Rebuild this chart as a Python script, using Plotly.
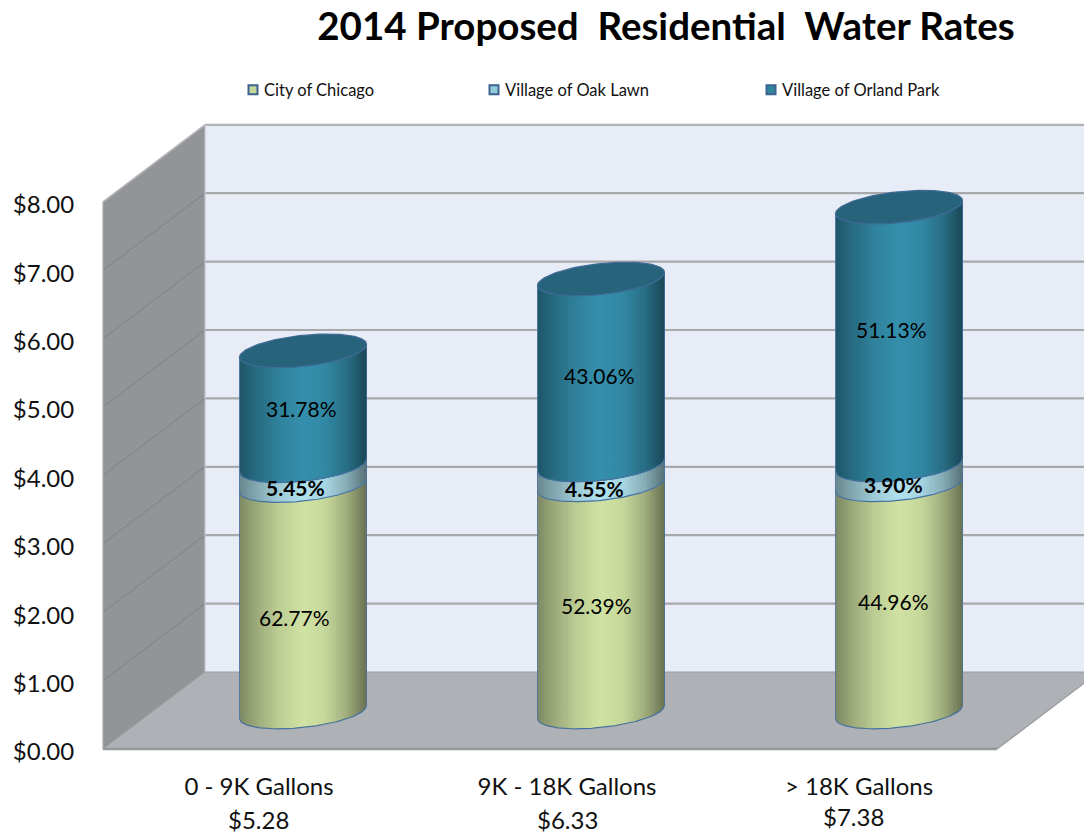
import numpy as np
import plotly.graph_objects as go

# ---- data ----
categories = ["0 - 9K Gallons", "9K - 18K Gallons", "> 18K Gallons"]
totals = ["$5.28", "$6.33", "$7.38"]
series_names = ["City of Chicago", "Village of Oak Lawn", "Village of Orland Park"]
chicago = [3.31, 3.32, 3.32]
oak_lawn = [0.29, 0.29, 0.29]
orland_park = [1.68, 2.72, 3.77]
chicago_pct = ["62.77%", "52.39%", "44.96%"]
oak_lawn_pct = ["5.45%", "4.55%", "3.90%"]
orland_park_pct = ["31.78%", "43.06%", "51.13%"]
y_ticks = [0, 1, 2, 3, 4, 5, 6, 7, 8]
y_tick_labels = ["$0.00", "$1.00", "$2.00", "$3.00", "$4.00", "$5.00", "$6.00", "$7.00", "$8.00"]

# ---- page geometry (pixels) ----
W, H = 1084, 834
PX_PER_CAT, PX_PER_DOLLAR = 298.0, 68.4
FRONT_LEFT, FRONT_BOTTOM = 103.0, 749.0
DEPTH_PX_X, DEPTH_PX_Y = 102.0, 77.0
PLOT_L, PLOT_T, PLOT_B = 100, 119, 752
x_min = -0.5 - (FRONT_LEFT - PLOT_L) / PX_PER_CAT
x_max = -0.5 + (W - FRONT_LEFT) / PX_PER_CAT
y_min = -(PLOT_B - FRONT_BOTTOM) / PX_PER_DOLLAR
y_max = (FRONT_BOTTOM - PLOT_T) / PX_PER_DOLLAR
dx = DEPTH_PX_X / PX_PER_CAT
dy = DEPTH_PX_Y / PX_PER_DOLLAR
px_x = 1 / PX_PER_CAT
px_y = 1 / PX_PER_DOLLAR
x_front_l, x_front_r = -0.5, 2.5
TOP = 8

fig = go.Figure()


def poly(xs, ys, fill, line=None, lw=0):
    fig.add_trace(go.Scatter(x=xs, y=ys, mode="lines", fill="toself", fillcolor=fill,
                             line=dict(color=line or fill, width=lw), hoverinfo="skip",
                             showlegend=False))


def path(xs, ys, color, lw):
    fig.add_trace(go.Scatter(x=xs, y=ys, mode="lines", line=dict(color=color, width=lw),
                             hoverinfo="skip", showlegend=False))


# walls and floor
poly([x_front_l + dx, x_front_r + dx, x_front_r + dx, x_front_l + dx],
     [dy, dy, TOP + dy, TOP + dy], "#e8ecf6")
poly([x_front_l, x_front_l + dx, x_front_l + dx, x_front_l],
     [0, dy, TOP + dy, TOP], "#929497")
poly([x_front_l, x_front_r, x_front_r + dx, x_front_l + dx],
     [0, 0, dy, dy], "#aeb1b6")

# gridlines
for v in y_ticks[1:]:
    path([x_front_l + dx, x_front_r + dx], [v + dy, v + dy], "#a8a9ab", 2.2)
    if v < TOP:
        path([x_front_l, x_front_l + dx], [v, v + dy], "#7f8184", 1)
path([x_front_l, x_front_l + dx, x_front_r + dx], [TOP, TOP + dy, TOP + dy], "#b4b6ba", 1.6)
path([x_front_l + dx, x_front_l + dx], [dy, TOP + dy], "#c2c4c8", 1.2)
path([x_front_l, x_front_l], [0, TOP], "#a9abae", 1.2)
path([x_front_l, x_front_r], [0, 0], "#97999c", 2.4)
path([x_front_l, x_front_l + dx, x_front_r + dx], [0, dy, dy], "#9a9c9f", 1)
path([x_front_r, x_front_r + dx], [0, dy], "#97999c", 1.2)

# cylinders
HALF_W = 63.5 * px_x
ELL_H = 15.5 * px_y
TILT = 6.5 * px_y
SHADE_U = [-1.0, -0.75, -0.4, 0.0, 0.35, 0.7, 1.0]
SHADE_K = [0.60, 0.74, 0.90, 1.0, 0.95, 0.76, 0.50]
N_STRIPS = 42
u_edges = np.linspace(-1, 1, N_STRIPS + 1)
segment_colors = [(0xd1, 0xe3, 0xa3), (0xb0, 0xe1, 0xee), (0x35, 0x90, 0xad)]
CAP_COLOR = "#27637a"
EDGE = "rgba(70,110,160,0.8)"


def front_arc(u, level):
    return level - ELL_H * np.sqrt(np.clip(1 - u ** 2, 0, 1)) + TILT * u


for i in range(len(categories)):
    cx = i + dx / 2
    base = dy / 2 - 1.5 * px_y
    stack = [chicago[i], oak_lawn[i], orland_park[i]]
    lows = np.concatenate([[0], np.cumsum(stack)[:-1]]) + base
    highs = np.cumsum(stack) + base
    for low, high, col in zip(lows, highs, segment_colors):
        # each band runs on to the far edge and the next one paints over it, so no seams show
        for j in range(N_STRIPS):
            k = float(np.interp((u_edges[j] + u_edges[j + 1]) / 2, SHADE_U, SHADE_K))
            c = "rgb(%d,%d,%d)" % tuple(int(k * q) for q in col)
            uj = u_edges[j:]
            poly(np.concatenate([cx + uj * HALF_W, cx + uj[::-1] * HALF_W]),
                 np.concatenate([front_arc(uj, low), front_arc(uj[::-1], high)]), c)
    uu = np.linspace(-1, 1, 81)
    for low in lows:
        path(cx + uu * HALF_W, front_arc(uu, low), "#47729f", 1.2)
    top = highs[-1]
    t = np.linspace(0, 2 * np.pi, 121)
    poly(cx + np.cos(t) * HALF_W, top + ELL_H * np.sin(t) + TILT * np.cos(t), CAP_COLOR, "#3f6a96", 1.3)
    path([cx - HALF_W, cx - HALF_W], [base - TILT, top - TILT], EDGE, 1)
    path([cx + HALF_W, cx + HALF_W], [base + TILT, top + TILT], EDGE, 1)

# legends: one per entry so that each can sit at its own spot
legend_markers = ["#c4d79b", "#92cddc", "#31859c"]
legend_x = [249, 490, 767]
legend_cfg = {}
for n, (name, col, lx) in enumerate(zip(series_names, legend_markers, legend_x)):
    key = "legend" if n == 0 else f"legend{n + 1}"
    fig.add_trace(go.Scatter(x=[None], y=[None], mode="markers", name=name,
                             marker=dict(symbol="square", size=9, color=col,
                                         line=dict(color="#3b6290", width=2)),
                             legend=key, showlegend=True))
    legend_cfg[key] = dict(x=(lx - 10) / W, y=1 - 90 / H, xref="container", yref="container",
                           xanchor="left", yanchor="middle", orientation="h",
                           bgcolor="rgba(0,0,0,0)", itemwidth=30, indentation=-15,
                           font=dict(family="Lato", size=16.5, color="#111"))

# data labels
label_xshift = [[-9, -8, -2], [-5, -7, -2], [-6, -6, -8]]
label_yshift = [[-19, -12, 0], [-7, -14, -3], [-3, -10, 7]]
annotations = []
pcts = [chicago_pct, oak_lawn_pct, orland_park_pct]
for i in range(len(categories)):
    stack = [chicago[i], oak_lawn[i], orland_park[i]]
    cum = np.cumsum(stack)
    base = dy / 2 - 1.5 * px_y
    for s in range(3):
        text = f"<b>{pcts[s][i]}</b>" if s == 1 else pcts[s][i]
        annotations.append(dict(
            x=i + dx / 2, y=base + cum[s] - stack[s] / 2, xref="x", yref="y", text=text,
            showarrow=False, xshift=label_xshift[i][s], yshift=label_yshift[i][s],
            font=dict(family="Lato", size=21, color="#000")))

# totals under the category names
total_xshift = [6, 17, 5]
total_yshift = [-70, -70, -67]
tick_shift_px = [7, 17, 11]
for i, txt in enumerate(totals):
    annotations.append(dict(x=i, y=0, xref="x", yref="y", text=txt, showarrow=False,
                            xshift=total_xshift[i], yshift=total_yshift[i], borderpad=0,
                            font=dict(family="Lato", size=24, color="#111")))

fig.update_layout(
    width=W, height=H, margin=dict(l=PLOT_L, r=0, t=PLOT_T, b=H - PLOT_B, pad=0),
    paper_bgcolor="white", plot_bgcolor="white",
    title=dict(text="<b>2014 Proposed\u00a0 Residential\u00a0 Water Rates</b>", x=666 / W, y=1 - 27 / H,
               xanchor="center", yanchor="middle",
               font=dict(family="Lato", size=38.5, color="#000")),
    xaxis=dict(range=[x_min, x_max], showgrid=False, zeroline=False, showline=False,
               tickmode="array", tickvals=[i + tick_shift_px[i] * px_x for i in range(3)],
               ticktext=categories, ticks="outside", ticklen=13, tickcolor="rgba(0,0,0,0)",
               tickfont=dict(family="Lato", size=24, color="#111")),
    yaxis=dict(range=[y_min, y_max], showgrid=False, zeroline=False, showline=False,
               tickmode="array", tickvals=[v - 3 * px_y for v in y_ticks], ticktext=y_tick_labels,
               ticks="outside", ticklen=20, tickcolor="rgba(0,0,0,0)",
               tickfont=dict(family="Lato", size=24, color="#111")),
    annotations=annotations,
    **legend_cfg,
)

# the page has no body margin; legend markers sit closer to their text, as in the reference
post = ("document.body.style.margin='0';"
        "document.querySelectorAll('.legendpoints').forEach(function(g){"
        "g.setAttribute('transform','translate(9,0)');});")
fig.write_html("out.html", config={"displayModeBar": False}, post_script=post)
